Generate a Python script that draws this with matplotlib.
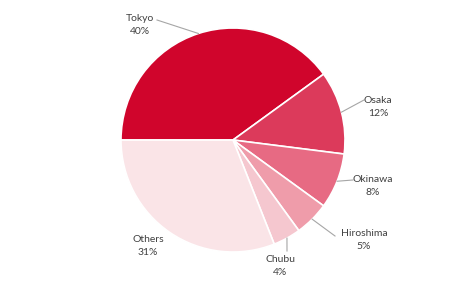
import numpy as np
import matplotlib.pyplot as plt

labels = ['Tokyo', 'Osaka', 'Okinawa', 'Hiroshima', 'Chubu', 'Others']
shares = [40, 12, 8, 5, 4, 31]
colors = ['#d0052c', '#dc3a5b', '#e76a83', '#ef9caa', '#f5c7cf', '#fae4e7']
# where the label text sits (pixels from top-left) and where its leader ends
label_pos = [(140, 25), (378, 107), (373, 186), (364, 240), (280, 266), (148, 246)]
leader_end = [(157, 20), (364, 100), (353, 180), (335, 236), (287, 251), None]

W, H = 466, 282
cx, cy, R = 233, 140, 112

fig = plt.figure(figsize=(W / 100, H / 100), dpi=100)
ax = fig.add_axes([0, 0, 1, 1])

wedges, _ = ax.pie(shares, colors=colors, startangle=180, counterclock=False,
                   center=(cx, H - cy), radius=R, frame=True,
                   wedgeprops=dict(edgecolor='white', linewidth=1.2))
ax.set_xlim(0, W)
ax.set_ylim(0, H)
ax.set_aspect('equal')
ax.axis('off')

for w, lab, s, pos, end in zip(wedges, labels, shares, label_pos, leader_end):
    mid = np.deg2rad((w.theta1 + w.theta2) / 2)
    if end is not None:
        px = cx + R * np.cos(mid)
        py = H - cy + R * np.sin(mid)
        ax.plot([px, end[0]], [py, H - end[1]], color='#a6a6a6', lw=0.8)
    ax.text(pos[0], H - pos[1], f'{lab}\n{s}%', ha='center', va='center',
            fontsize=7.5, family='Lato', color='#404040', linespacing=1.55)

fig.savefig('out.png', dpi=100)
